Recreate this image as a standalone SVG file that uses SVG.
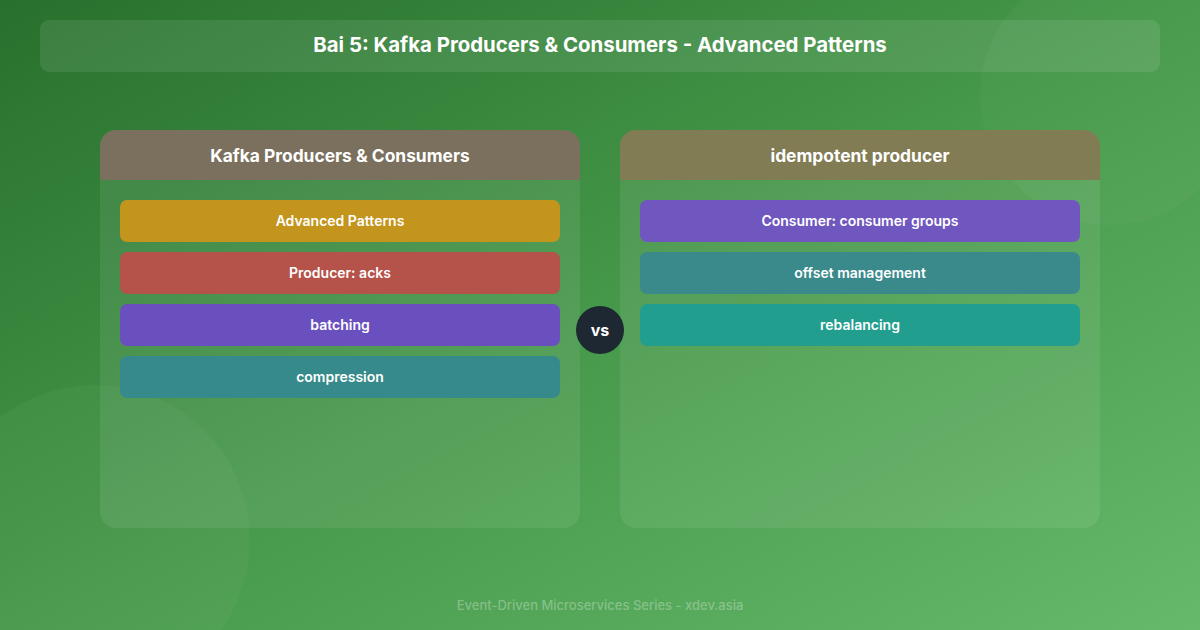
<svg xmlns="http://www.w3.org/2000/svg" width="1200" height="630" viewBox="0 0 1200 630">
  <defs>
    <linearGradient id="bg" x1="0" y1="0" x2="1" y2="1">
      <stop offset="0" stop-color="#27702d"/>
      <stop offset="0.5" stop-color="#46984a"/>
      <stop offset="1" stop-color="#66b96a"/>
    </linearGradient>
    <style>
      text { font-family: Inter, "Liberation Sans", sans-serif; fill: #ffffff; text-anchor: middle; }
      .title { font-size: 20.4px; font-weight: 700; }
      .head { font-size: 17.4px; font-weight: 700; }
      .item { font-size: 14px; font-weight: 600; }
      .panel { fill: #ffffff; fill-opacity: 0.08; }
      .foot { font-size: 13px; font-weight: 500; fill: #ffffff; fill-opacity: 0.3; }
    </style>
  </defs>
  <rect width="1200" height="630" fill="url(#bg)"/>
  <circle cx="95" cy="540" r="155" fill="#ffffff" fill-opacity="0.035"/>
  <circle cx="1110" cy="95" r="130" fill="#ffffff" fill-opacity="0.03"/>

  <g id="title">
    <rect x="40" y="20" width="1120" height="52" rx="9" fill="#ffffff" fill-opacity="0.09"/>
    <text class="title" x="600" y="52">Bai 5: Kafka Producers &amp; Consumers - Advanced Patterns</text>
  </g>

  <g id="left-panel">
    <rect class="panel" x="100" y="130" width="480" height="398" rx="16"/>
    <path d="M116 130 H564 A16 16 0 0 1 580 146 V180 H100 V146 A16 16 0 0 1 116 130 Z" fill="#7a705d"/>
    <text class="head" x="340" y="162">Kafka Producers &amp; Consumers</text>
  </g>
  <g id="left-item-1">
    <rect x="120" y="200" width="440" height="42" rx="7" fill="#c3951d"/>
    <text class="item" x="340" y="226">Advanced Patterns</text>
  </g>
  <g id="left-item-2">
    <rect x="120" y="252" width="440" height="42" rx="7" fill="#b5524a"/>
    <text class="item" x="340" y="278">Producer: acks</text>
  </g>
  <g id="left-item-3">
    <rect x="120" y="304" width="440" height="42" rx="7" fill="#6a50bf"/>
    <text class="item" x="340" y="330">batching</text>
  </g>
  <g id="left-item-4">
    <rect x="120" y="356" width="440" height="42" rx="7" fill="#378a8b"/>
    <text class="item" x="340" y="382">compression</text>
  </g>

  <g id="right-panel">
    <rect class="panel" x="620" y="130" width="480" height="398" rx="16"/>
    <path d="M636 130 H1084 A16 16 0 0 1 1100 146 V180 H620 V146 A16 16 0 0 1 636 130 Z" fill="#827c54"/>
    <text class="head" x="860" y="162">idempotent producer</text>
  </g>
  <g id="right-item-1">
    <rect x="640" y="200" width="440" height="42" rx="7" fill="#7057c0"/>
    <text class="item" x="860" y="226">Consumer: consumer groups</text>
  </g>
  <g id="right-item-2">
    <rect x="640" y="252" width="440" height="42" rx="7" fill="#3a8a8c"/>
    <text class="item" x="860" y="278">offset management</text>
  </g>
  <g id="right-item-3">
    <rect x="640" y="304" width="440" height="42" rx="7" fill="#229e8e"/>
    <text class="item" x="860" y="330">rebalancing</text>
  </g>

  <g id="vs">
    <circle cx="600" cy="330" r="24" fill="#1d2833"/>
    <text x="600" y="336" style="font-size:16px;font-weight:700">vs</text>
  </g>

  <g id="connectors"></g>

  <text class="foot" x="600" y="610">Event-Driven Microservices Series - xdev.asia</text>
</svg>
